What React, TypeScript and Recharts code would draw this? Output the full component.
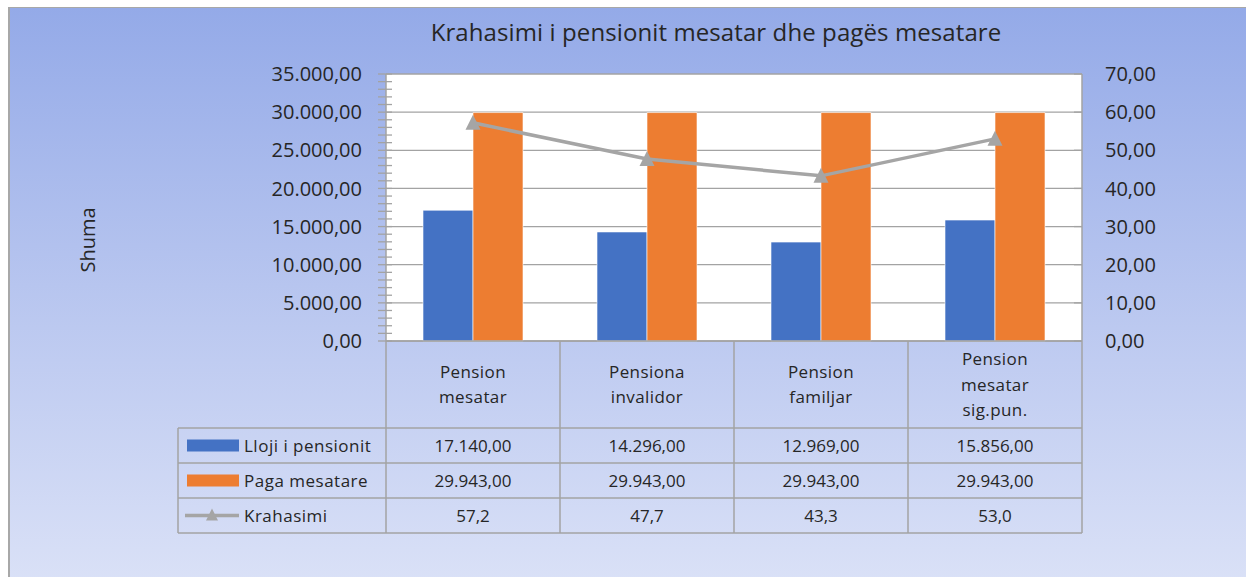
import React from "react";
import { ComposedChart, Bar, Line, XAxis, YAxis, CartesianGrid } from "recharts";

// ---------- data ----------
const categories = ["Pension mesatar", "Pensiona invalidor", "Pension familjar", "Pension mesatar sig.pun."];
const seriesPension = [17140, 14296, 12969, 15856];
const seriesPaga = [29943, 29943, 29943, 29943];
const seriesKrahasimi = [57.2, 47.7, 43.3, 53.0];
const leftTicks = [0, 5000, 10000, 15000, 20000, 25000, 30000, 35000];
const rightTicks = [0, 10, 20, 30, 40, 50, 60, 70];
const minorStep = 1000;
const seriesNames = ["Lloji i pensionit", "Paga mesatare", "Krahasimi"];
const title = "Krahasimi i pensionit mesatar dhe pagës mesatare";
const yLabel = "Shuma";

const data = categories.map((name, i) => ({
  name,
  pension: seriesPension[i],
  paga: seriesPaga[i],
  krahasimi: seriesKrahasimi[i],
}));
const minorTicks: number[] = [];
for (let v = 0; v <= leftTicks[leftTicks.length - 1]; v += minorStep) minorTicks.push(v);

// ---------- layout ----------
const W = 1246;
const H = 577;
const PLOT_LEFT = 386;
const PLOT_RIGHT = 1082;
const PLOT_TOP = 74;
const PLOT_BOTTOM = 341;
const LEFT_AXIS_W = 100;
const RIGHT_AXIS_W = 80;
const BAND = (PLOT_RIGHT - PLOT_LEFT) / categories.length;
const HEADER_H = 87;
const ROW_H = 35;
const LEGEND_W = 208;

const FONT = "'Open Sans', 'Noto Sans', sans-serif";
const TEXT = "#262626";
const LINE_GRAY = "#a3a3a3";
const BLUE = "#4472C4";
const ORANGE = "#ED7D31";
const GRAY = "#A5A5A5";

function fmt(v: number, dec: number) {
  const s = v.toFixed(dec);
  const [int, frac] = s.split(".");
  const withSep = int.replace(/\B(?=(\d{3})+(?!\d))/g, ".");
  return frac ? `${withSep},${frac}` : withSep;
}

const LeftTick = (props: any) => {
  const { x, y, payload } = props;
  const axisX = x + 24;
  const v = payload.value as number;
  const major = v % 5000 === 0;
  return (
    <g>
      <line x1={axisX - 8} x2={axisX + 6} y1={y} y2={y} stroke={LINE_GRAY} strokeWidth={1.3} />
      {major && (
        <text x={x} y={y} dy="0.36em" textAnchor="end" fontFamily={FONT} fontSize={20} fill={TEXT}>
          {fmt(v, 2)}
        </text>
      )}
    </g>
  );
};

const RightTick = (props: any) => {
  const { x, y, payload } = props;
  const axisX = x - 23;
  return (
    <g>
      <line x1={axisX - 8} x2={axisX} y1={y} y2={y} stroke={LINE_GRAY} strokeWidth={1.3} />
      <text x={x} y={y} dy="0.36em" textAnchor="start" fontFamily={FONT} fontSize={20} fill={TEXT}>
        {fmt(payload.value, 2)}
      </text>
    </g>
  );
};

const Triangle = (props: any) => {
  const { cx, cy } = props;
  if (cx == null || cy == null) return null;
  return <path d={`M${cx},${cy - 8} L${cx + 7.5},${cy + 7} L${cx - 7.5},${cy + 7} Z`} fill={GRAY} />;
};

const rows = [
  { values: seriesPension, dec: 2 },
  { values: seriesPaga, dec: 2 },
  { values: seriesKrahasimi, dec: 1 },
];

const XTick = (props: any) => {
  const { x, y, payload, index } = props;
  const left = x - BAND / 2;
  const right = x + BAND / 2;
  const lines = String(payload.value).split(" ");
  const headerMid = y + HEADER_H / 2;
  const lh = 25.5;
  const tableBottom = y + HEADER_H + ROW_H * rows.length;
  const els: React.ReactNode[] = [];
  els.push(<line key="vr" x1={right} x2={right} y1={y} y2={tableBottom} stroke={LINE_GRAY} strokeWidth={1.5} />);
  if (index === 0) {
    els.push(<line key="vl" x1={left} x2={left} y1={y} y2={tableBottom} stroke={LINE_GRAY} strokeWidth={1.5} />);
    const lx = left - LEGEND_W;
    els.push(<line key="lgl" x1={lx} x2={lx} y1={y + HEADER_H} y2={tableBottom} stroke={LINE_GRAY} strokeWidth={1.5} />);
    for (let r = 0; r <= rows.length; r++) {
      const yy = y + HEADER_H + r * ROW_H;
      els.push(<line key={`lh${r}`} x1={lx} x2={left} y1={yy} y2={yy} stroke={LINE_GRAY} strokeWidth={1.5} />);
    }
    rows.forEach((_, r) => {
      const cy = y + HEADER_H + r * ROW_H + ROW_H / 2;
      if (r < 2) {
        els.push(<rect key={`k${r}`} x={lx + 9} y={cy - 6} width={52} height={12} fill={r === 0 ? BLUE : ORANGE} />);
      } else {
        els.push(<line key="kl" x1={lx + 7} x2={lx + 61} y1={cy} y2={cy} stroke={GRAY} strokeWidth={3.5} />);
        els.push(<path key="kt" d={`M${lx + 34},${cy - 7} L${lx + 40},${cy + 5} L${lx + 28},${cy + 5} Z`} fill={GRAY} />);
      }
      els.push(
        <text key={`ln${r}`} x={lx + 66} y={cy} dy="0.36em" fontFamily={FONT} fontSize={17} fill={TEXT} letterSpacing={0.5}>
          {seriesNames[r]}
        </text>
      );
    });
  }
  for (let r = 0; r <= rows.length; r++) {
    const yy = y + HEADER_H + r * ROW_H;
    els.push(<line key={`h${r}`} x1={left} x2={right} y1={yy} y2={yy} stroke={LINE_GRAY} strokeWidth={1.5} />);
  }
  lines.forEach((t, i) => {
    const ty = headerMid + (i - (lines.length - 1) / 2) * lh;
    els.push(
      <text key={`c${i}`} x={x} y={ty} dy="0.36em" textAnchor="middle" fontFamily={FONT} fontSize={17} fill={TEXT} letterSpacing={0.4}>
        {t}
      </text>
    );
  });
  rows.forEach((row, r) => {
    const cy = y + HEADER_H + r * ROW_H + ROW_H / 2;
    els.push(
      <text key={`v${r}`} x={x} y={cy} dy="0.36em" textAnchor="middle" fontFamily={FONT} fontSize={17} fill={TEXT}>
        {fmt(row.values[index], row.dec)}
      </text>
    );
  });
  return <g>{els}</g>;
};

export default function App() {
  return (
    <div style={{ position: "fixed", left: 0, top: 0, width: W, height: H, overflow: "hidden", background: "#fff" }}>
      <div
        style={{
          position: "absolute",
          left: 8,
          top: 7,
          width: W + 40,
          height: H + 40,
          borderLeft: "2px solid #a8a8a8",
          borderTop: "1.5px solid #a8a8a8",
          background: "linear-gradient(to bottom, #94aae8 0%, #b7c5ef 45%, #dfe5f8 100%)",
        }}
      />
      <div style={{ position: "absolute", left: 0, top: 0 }}>
        <ComposedChart
          width={W}
          height={H}
          data={data}
          margin={{ top: PLOT_TOP, left: PLOT_LEFT - LEFT_AXIS_W, right: W - PLOT_RIGHT - RIGHT_AXIS_W, bottom: 0 }}
          barCategoryGap={37}
          barGap={0}
        >
          <CartesianGrid yAxisId="right" vertical={false} stroke={LINE_GRAY} strokeWidth={1.3} fill="#ffffff" fillOpacity={1} />
          <XAxis
            dataKey="name"
            height={H - PLOT_BOTTOM}
            interval={0}
            tickLine={false}
            tickSize={0}
            tickMargin={0}
            axisLine={{ stroke: LINE_GRAY, strokeWidth: 1.5 }}
            tick={<XTick />}
          />
          <YAxis
            yAxisId="left"
            orientation="left"
            width={LEFT_AXIS_W}
            domain={[0, 35000]}
            ticks={minorTicks}
            interval={0}
            tickLine={false}
            tickSize={0}
            tickMargin={24}
            axisLine={{ stroke: LINE_GRAY, strokeWidth: 1.5 }}
            tick={<LeftTick />}
          />
          <YAxis
            yAxisId="right"
            orientation="right"
            width={RIGHT_AXIS_W}
            domain={[0, 70]}
            ticks={rightTicks}
            interval={0}
            tickLine={false}
            tickSize={0}
            tickMargin={23}
            axisLine={{ stroke: LINE_GRAY, strokeWidth: 1.5 }}
            tick={<RightTick />}
          />
          <Bar yAxisId="left" dataKey="pension" fill={BLUE} stroke="#ffffff" strokeWidth={0.6} isAnimationActive={false} />
          <Bar yAxisId="left" dataKey="paga" fill={ORANGE} stroke="#ffffff" strokeWidth={0.6} isAnimationActive={false} />
          <Line
            yAxisId="right"
            dataKey="krahasimi"
            stroke={GRAY}
            strokeWidth={3.5}
            dot={<Triangle />}
            activeDot={false}
            isAnimationActive={false}
          />
          <text x={716} y={32} dy="0.36em" textAnchor="middle" fontFamily={FONT} fontSize={24} fill={TEXT} letterSpacing={0.1}>
            {title}
          </text>
          <text
            x={88}
            y={240}
            dy="0.36em"
            textAnchor="middle"
            fontFamily={FONT}
            fontSize={20}
            fill={TEXT}
            transform="rotate(-90 88 240)"
          >
            {yLabel}
          </text>
        </ComposedChart>
      </div>
    </div>
  );
}
